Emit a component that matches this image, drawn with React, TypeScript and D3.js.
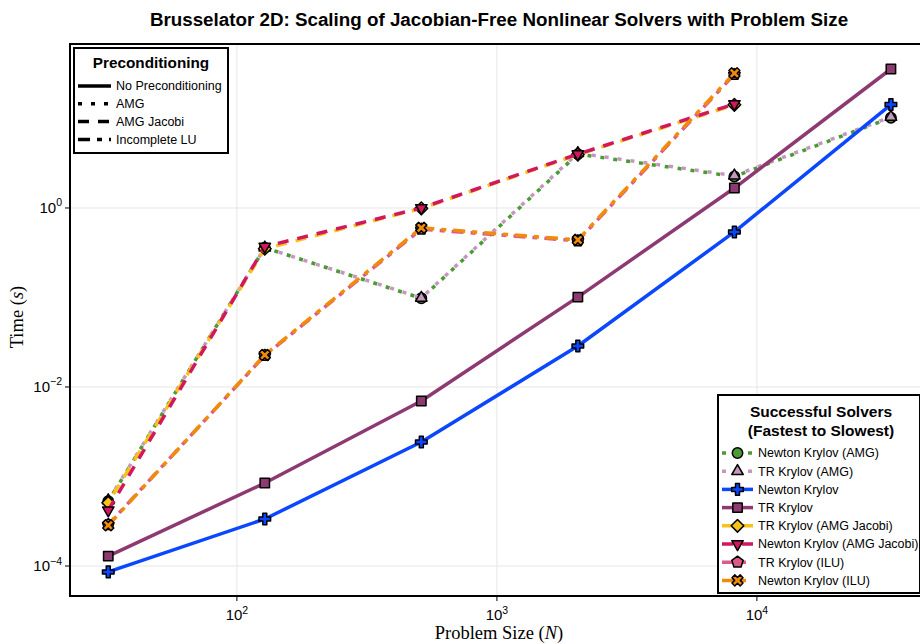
import React from 'react';
import * as d3 from 'd3';

// ---------- data ----------
const problemSizes = [32, 128, 512, 2048, 8192, 32768];
const newtonKrylovAMG = [5.3e-4, 0.36, 0.098, 4.0, 2.25, 10.2];
const trKrylovAMG = [5.4e-4, 0.36, 0.099, 4.1, 2.3, 10.4];
const newtonKrylov = [8.6e-5, 3.35e-4, 2.43e-3, 0.0287, 0.54, 14.3];
const trKrylov = [1.29e-4, 8.45e-4, 6.98e-3, 0.101, 1.67, 35.7];
const trKrylovAMGJacobi = [5.1e-4, 0.35, 0.99, 3.95, 14.2];
const newtonKrylovAMGJacobi = [4.2e-4, 0.37, 1.0, 4.0, 14.5];
const trKrylovILU = [2.9e-4, 0.0225, 0.58, 0.43, 31];
const newtonKrylovILU = [2.85e-4, 0.0228, 0.6, 0.44, 32];

const seriesNames = [
  'Newton Krylov (AMG)',
  'TR Krylov (AMG)',
  'Newton Krylov',
  'TR Krylov',
  'TR Krylov (AMG Jacobi)',
  'Newton Krylov (AMG Jacobi)',
  'TR Krylov (ILU)',
  'Newton Krylov (ILU)',
];
const preconditionerNames = ['No Preconditioning', 'AMG', 'AMG Jacobi', 'Incomplete LU'];
const xTickValues = [1e2, 1e3, 1e4];
const xTickExponents = ['2', '3', '4'];
const yTickValues = [1e0, 1e-2, 1e-4];
const yTickExponents = ['0', '−2', '−4'];

// ---------- styles ----------
const DOT = '4,9';
const DASH = '11,9';
const DASHDOT = '12,7,5,7';

const series = [
  { name: seriesNames[0], values: newtonKrylovAMG, color: '#4c9a35', dash: DOT, offset: 4, marker: 'circle' },
  { name: seriesNames[1], values: trKrylovAMG, color: '#c597bf', dash: DOT, offset: 0, marker: 'triangle' },
  { name: seriesNames[2], values: newtonKrylov, color: '#0a47ff', dash: null, offset: 0, marker: 'plus' },
  { name: seriesNames[3], values: trKrylov, color: '#8e3a72', dash: null, offset: 0, marker: 'square' },
  { name: seriesNames[4], values: trKrylovAMGJacobi, color: '#f7c318', dash: DASH, offset: 10, marker: 'diamond' },
  { name: seriesNames[5], values: newtonKrylovAMGJacobi, color: '#d1185e', dash: DASH, offset: 0, marker: 'tridown' },
  { name: seriesNames[6], values: trKrylovILU, color: '#dc5a8a', dash: DASHDOT, offset: 3, marker: 'pentagon' },
  { name: seriesNames[7], values: newtonKrylovILU, color: '#f08c0a', dash: DASHDOT, offset: 0, marker: 'x' },
];
const preconditionerDashes = [null, DOT, DASH, DASHDOT];

const W = 920;
const H = 644;
const M = { left: 70, right: 922, top: 44, bottom: 596 };
const SANS = '"Liberation Sans", Arial, Helvetica, sans-serif';
const SERIF = '"Liberation Serif", "DejaVu Serif", serif';

function polyPath(pts: [number, number][]) {
  return 'M' + pts.map((p) => p[0].toFixed(2) + ',' + p[1].toFixed(2)).join('L') + 'Z';
}

function markerPath(kind: string): string {
  switch (kind) {
    case 'circle': {
      const r = 5.2;
      return `M${-r},0A${r},${r} 0 1,0 ${r},0A${r},${r} 0 1,0 ${-r},0Z`;
    }
    case 'triangle': {
      const r = 6.6;
      return polyPath([[0, -r], [r * 0.866, r * 0.5], [-r * 0.866, r * 0.5]]);
    }
    case 'tridown': {
      const r = 6.6;
      return polyPath([[0, r], [r * 0.866, -r * 0.5], [-r * 0.866, -r * 0.5]]);
    }
    case 'square': {
      const s = 4.7;
      return polyPath([[-s, -s], [s, -s], [s, s], [-s, s]]);
    }
    case 'diamond': {
      const s = 6.3;
      return polyPath([[0, -s], [s, 0], [0, s], [-s, 0]]);
    }
    case 'pentagon': {
      const r = 6;
      const pts: [number, number][] = [];
      for (let i = 0; i < 5; i++) {
        const a = -Math.PI / 2 + (i * 2 * Math.PI) / 5;
        pts.push([r * Math.cos(a), r * Math.sin(a)]);
      }
      return polyPath(pts);
    }
    case 'plus':
    case 'x': {
      const a = 2.0;
      const L = 5.8;
      let pts: [number, number][] = [
        [-a, -L], [a, -L], [a, -a], [L, -a], [L, a], [a, a],
        [a, L], [-a, L], [-a, a], [-L, a], [-L, -a], [-a, -a],
      ];
      if (kind === 'x') {
        const c = Math.SQRT1_2;
        pts = pts.map(([x, y]) => [(x - y) * c, (x + y) * c]);
      }
      return polyPath(pts);
    }
  }
  return '';
}

export default function App() {
  const x = d3.scaleLog().domain([Math.pow(10, 1.358), Math.pow(10, 4.635)]).range([M.left, M.right]);
  const y = d3.scaleLog().domain([Math.pow(10, -4.335), Math.pow(10, 1.832)]).range([M.bottom, M.top]);

  const line = d3
    .line<[number, number]>()
    .x((d) => x(d[0]))
    .y((d) => y(d[1]));

  const legX = 718;
  const legY = 395;
  const legW = 202;
  const legH = 198;
  const rowY0 = 453;
  const rowStep = 18.2;

  const pLegX = 74;
  const pLegY = 48;

  return (
    <svg
      width={W}
      height={H}
      style={{ position: 'absolute', left: 0, top: 0, background: '#fff' }}
      fontFamily={SANS}
    >
      <defs>
        <clipPath id="plotclip">
          <rect x={M.left} y={M.top} width={M.right - M.left} height={M.bottom - M.top} />
        </clipPath>
      </defs>
      <rect x={0} y={0} width={W} height={H} fill="#fff" />

      {/* title */}
      <text x={499} y={26} textAnchor="middle" fontSize={18.8} fontWeight="bold" fill="#000">
        Brusselator 2D: Scaling of Jacobian-Free Nonlinear Solvers with Problem Size
      </text>

      {/* grid */}
      {xTickValues.map((v, i) => (
        <line key={'gx' + i} x1={x(v)} x2={x(v)} y1={M.top} y2={M.bottom} stroke="#e6e6e6" strokeWidth={1} />
      ))}
      {yTickValues.map((v, i) => (
        <line key={'gy' + i} x1={M.left} x2={M.right} y1={y(v)} y2={y(v)} stroke="#e6e6e6" strokeWidth={1} />
      ))}

      {/* series */}
      <g clipPath="url(#plotclip)">
        {series.map((s, si) => {
          const pts: [number, number][] = s.values.map((v, i) => [problemSizes[i], v]);
          return (
            <g key={'s' + si}>
              <path
                d={line(pts) || ''}
                fill="none"
                stroke={s.color}
                strokeWidth={3.5}
                strokeDasharray={s.dash || undefined}
                strokeDashoffset={s.offset}
                strokeLinejoin="round"
              />
              {pts.map((p, i) => (
                <path
                  key={i}
                  d={markerPath(s.marker)}
                  transform={`translate(${x(p[0])},${y(p[1])})`}
                  fill={s.color}
                  stroke="#000"
                  strokeWidth={1.5}
                  strokeLinejoin="round"
                />
              ))}
            </g>
          );
        })}
      </g>

      {/* frame */}
      <rect
        x={M.left}
        y={M.top}
        width={M.right - M.left}
        height={M.bottom - M.top}
        fill="none"
        stroke="#000"
        strokeWidth={2}
      />

      {/* x ticks */}
      {xTickValues.map((v, i) => (
        <g key={'xt' + i}>
          <line x1={x(v)} x2={x(v)} y1={M.bottom} y2={M.bottom + 5} stroke="#000" strokeWidth={1} />
          <text x={x(v)} y={620} textAnchor="middle" fontSize={15} fill="#000">
            10
            <tspan dy={-6.5} fontSize={10.5}>
              {xTickExponents[i]}
            </tspan>
          </text>
        </g>
      ))}
      {/* y ticks */}
      {yTickValues.map((v, i) => (
        <g key={'yt' + i}>
          <line x1={M.left - 5} x2={M.left} y1={y(v)} y2={y(v)} stroke="#000" strokeWidth={1} />
          <text x={62} y={y(v) + 5} textAnchor="end" fontSize={15} fill="#000">
            10
            <tspan dy={-6.5} fontSize={10.5}>
              {yTickExponents[i]}
            </tspan>
          </text>
        </g>
      ))}

      {/* axis labels */}
      <text x={499} y={639} textAnchor="middle" fontSize={18.5} fontFamily={SERIF} fill="#000">
        Problem Size (<tspan fontStyle="italic">N</tspan>)
      </text>
      <text
        transform={`translate(23,${(M.top + M.bottom) / 2 - 3}) rotate(-90)`}
        textAnchor="middle"
        fontSize={18.5}
        fontFamily={SERIF}
        fill="#000"
      >
        Time (<tspan fontStyle="italic">s</tspan>)
      </text>

      {/* preconditioning legend */}
      <rect x={pLegX} y={pLegY} width={154} height={105} fill="#fff" stroke="#000" strokeWidth={2} />
      <text x={pLegX + 77} y={68} textAnchor="middle" fontSize={15.3} fontWeight="bold" fill="#000">
        Preconditioning
      </text>
      {preconditionerNames.map((n, i) => {
        const yy = 86 + i * 17.8;
        return (
          <g key={'pl' + i}>
            <line
              x1={78}
              x2={111}
              y1={yy}
              y2={yy}
              stroke="#000"
              strokeWidth={3.5}
              strokeDasharray={preconditionerDashes[i] || undefined}
            />
            <text x={116} y={yy + 4.3} fontSize={12.5} fill="#000">
              {n}
            </text>
          </g>
        );
      })}

      {/* solvers legend */}
      <rect x={legX} y={legY} width={legW} height={legH} fill="#fff" stroke="#000" strokeWidth={2} />
      <text x={legX + 103} y={417} textAnchor="middle" fontSize={15.5} fontWeight="bold" fill="#000">
        Successful Solvers
      </text>
      <text x={legX + 103} y={436} textAnchor="middle" fontSize={15.5} fontWeight="bold" fill="#000">
        (Fastest to Slowest)
      </text>
      {series.map((s, i) => {
        const yy = rowY0 + i * rowStep;
        return (
          <g key={'sl' + i}>
            <line
              x1={722}
              x2={753}
              y1={yy}
              y2={yy}
              stroke={s.color}
              strokeWidth={3.5}
              strokeDasharray={s.dash || undefined}
            />
            <path
              d={markerPath(s.marker)}
              transform={`translate(737.5,${yy})`}
              fill={s.color}
              stroke="#000"
              strokeWidth={1.5}
              strokeLinejoin="round"
            />
            <text x={758} y={yy + 4.3} fontSize={12.5} fill="#000">
              {s.name}
            </text>
          </g>
        );
      })}
    </svg>
  );
}
